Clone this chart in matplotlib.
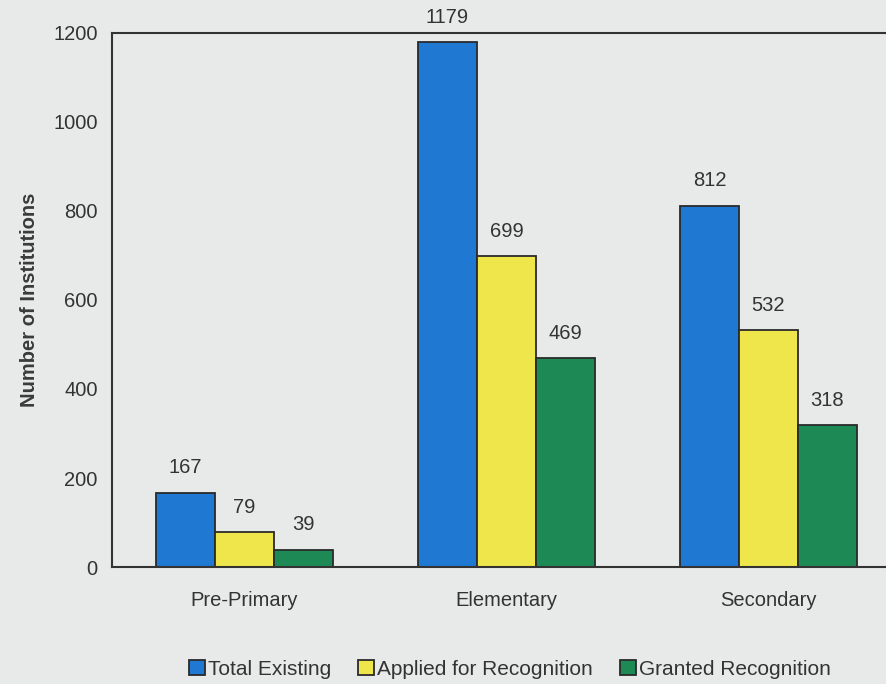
import matplotlib
matplotlib.use("Agg")
import matplotlib.pyplot as plt
import numpy as np

categories = ["Pre-Primary", "Elementary", "Secondary"]
series_names = ["Total Existing", "Applied for Recognition", "Granted Recognition"]
total_existing = [167, 1179, 812]
applied = [79, 699, 532]
granted = [39, 469, 318]
yticks = [0, 200, 400, 600, 800, 1000, 1200]

colors = ["#1f78d2", "#efe64c", "#1d8a56"]
bg = "#e8eae9"
plt.rcParams['font.family'] = ['Liberation Sans', 'DejaVu Sans']

fig = plt.figure(figsize=(8.87, 6.84), dpi=100, facecolor=bg)
ax = fig.add_axes([0.126, 0.171, 0.888, 0.781], facecolor=bg)

x = np.arange(len(categories))
w = 0.225
series = [total_existing, applied, granted]
for i, (vals, c, name) in enumerate(zip(series, colors, series_names)):
    pos = x + (i - 1) * w
    ax.bar(pos, vals, width=w, color=c, edgecolor="#2a2a2a", linewidth=1.3, label=name)
    for p, v in zip(pos, vals):
        ax.annotate(str(v), (p, v), xytext=(0, 11), textcoords="offset points",
                    ha="center", va="bottom", fontsize=14.5, color="#333333")

ax.set_xlim(-0.506, 2.5)
ax.set_ylim(0, 1200)
ax.set_yticks(yticks)
ax.set_xticks(x)
ax.set_xticklabels(categories, fontsize=14.5, color="#333333")
ax.tick_params(axis="y", length=0, labelsize=14.5, labelcolor="#333333", pad=10)
ax.tick_params(axis="x", length=0, pad=17)
for s in ["left", "top", "bottom"]:
    ax.spines[s].set_color("#333333")
    ax.spines[s].set_linewidth(1.5)
ax.spines["right"].set_visible(False)
ax.set_ylabel("Number of Institutions", fontsize=14.5, fontweight="bold", color="#3a3a3a", labelpad=10)

leg = fig.legend(loc="lower center", bbox_to_anchor=(0.575, -0.02), ncol=3, frameon=False,
                 fontsize=15, handlelength=0.75, handleheight=0.75, handletextpad=0.15, columnspacing=1.3)
for t in leg.get_texts():
    t.set_color("#333333")

fig.savefig("out.png", dpi=100, facecolor=bg)
